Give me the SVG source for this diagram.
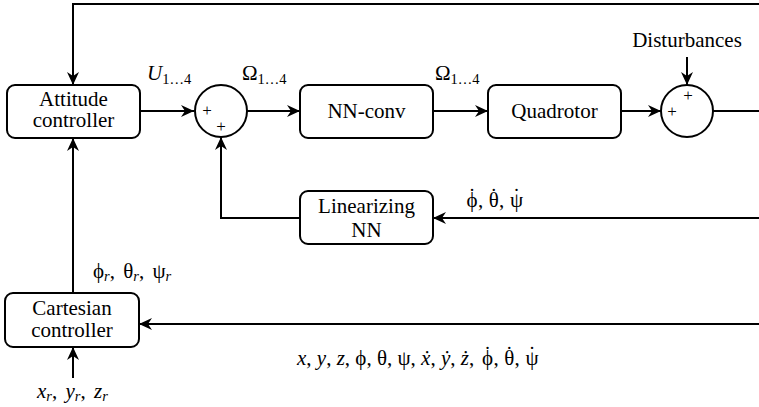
<svg xmlns="http://www.w3.org/2000/svg" width="759" height="407" viewBox="0 0 759 407">
<style>
.box{fill:#fff;stroke:#000;stroke-width:2}
.ln{fill:none;stroke:#000;stroke-width:2}
.arr{marker-end:url(#ah)}
text{font-family:"Liberation Serif","Times New Roman",serif;fill:#000}
.t{font-size:21px;text-anchor:middle}
.m{font-size:21px}
.sub{font-size:14.5px}
.pl{font-size:17px;text-anchor:middle}
.i{font-style:italic}
.c{text-anchor:middle}
.s{text-anchor:start}
.ws{word-spacing:3px}
</style>
<defs>
<marker id="ah" viewBox="-14 -7 15 14" refX="0" refY="0" markerWidth="15" markerHeight="14" markerUnits="userSpaceOnUse" orient="auto">
<path d="M0,0 L-13,-6 L-9,0 L-13,6 Z" fill="#000"/>
</marker>
</defs>
<g id="connectors">
<path class="ln arr" d="M759,4 H73 V85"/>
<path class="ln arr" d="M140,111 H194"/>
<path class="ln arr" d="M247,111 H300"/>
<path class="ln arr" d="M433,111 H488"/>
<path class="ln arr" d="M621,111 H661"/>
<path class="ln" d="M713,111 H759"/>
<path class="ln arr" d="M687,57 V85"/>
<path class="ln arr" d="M759,218 H433"/>
<path class="ln arr" d="M300,218 H221 V137"/>
<path class="ln arr" d="M73,293 V138"/>
<path class="ln arr" d="M759,324 H139"/>
<path class="ln arr" d="M73,378 V347"/>
</g>
<g id="attitude">
<rect class="box" x="7" y="85" width="133" height="53" rx="8"/>
<text class="t" x="73.500" y="106">Attitude</text>
<text class="t" x="73.500" y="127">controller</text>
</g>
<g id="sum1">
<circle class="box" cx="221" cy="111" r="26"/>
<text class="pl" x="207" y="116">+</text>
<text class="pl" x="221" y="132">+</text>
</g>
<g id="nnconv">
<rect class="box" x="300" y="85" width="133" height="53" rx="8"/>
<text class="t" x="366.500" y="118">NN-conv</text>
</g>
<g id="quadrotor">
<rect class="box" x="488" y="85" width="133" height="53" rx="8"/>
<text class="t" x="554.500" y="118">Quadrotor</text>
</g>
<g id="sum2">
<circle class="box" cx="687" cy="111" r="26"/>
<text class="pl" x="688" y="101">+</text>
<text class="pl" x="672" y="117">+</text>
</g>
<g id="linearizing">
<rect class="box" x="300" y="191" width="133" height="53" rx="8"/>
<text class="t" x="366.500" y="213">Linearizing</text>
<text class="t" x="366.500" y="237">NN</text>
</g>
<g id="cartesian">
<rect class="box" x="5" y="293" width="134" height="54" rx="8"/>
<text class="t" x="72" y="315">Cartesian</text>
<text class="t" x="72" y="337">controller</text>
</g>
<g id="labels">
<text class="t" x="687" y="47">Disturbances</text>
<text class="m" x="147" y="80"><tspan class="i">U</tspan><tspan class="sub" dy="4">1…4</tspan></text>
<text class="m" x="242" y="80">Ω<tspan class="sub" dy="4">1…4</tspan></text>
<text class="m" x="435" y="80">Ω<tspan class="sub" dy="4">1…4</tspan></text>
<text class="m" y="207"><tspan class="c" x="472">ϕ</tspan><tspan class="c" x="472" dy="-4">˙</tspan><tspan class="s" x="478" dy="4">,</tspan><tspan class="c" x="493.800">θ</tspan><tspan class="c" x="493.800" dy="-4">˙</tspan><tspan class="s" x="499" dy="4">,</tspan><tspan class="c" x="516.500">ψ</tspan><tspan class="c" x="516.500" dy="-4">˙</tspan></text>
<text class="m ws" x="93" y="278">ϕ<tspan class="sub i" dy="3">r</tspan><tspan dy="-3">, θ</tspan><tspan class="sub i" dy="3">r</tspan><tspan dy="-3">, ψ</tspan><tspan class="sub i" dy="3">r</tspan></text>
<text class="m" y="365"><tspan x="297"><tspan class="i">x</tspan>, <tspan class="i">y</tspan>, <tspan class="i">z</tspan>, ϕ, θ, ψ, <tspan class="i">ẋ</tspan>, <tspan class="i">ẏ</tspan>, <tspan class="i">ż</tspan>,</tspan><tspan class="c" x="487.600">ϕ</tspan><tspan class="c" x="487.600" dy="-4">˙</tspan><tspan class="s" x="493.600" dy="4">,</tspan><tspan class="c" x="509.300">θ</tspan><tspan class="c" x="509.300" dy="-4">˙</tspan><tspan class="s" x="514.600" dy="4">,</tspan><tspan class="c" x="532.100">ψ</tspan><tspan class="c" x="532.100" dy="-4">˙</tspan></text>
<text class="m ws" x="37" y="398"><tspan class="i">x</tspan><tspan class="sub i" dy="3">r</tspan><tspan dy="-3">, </tspan><tspan class="i">y</tspan><tspan class="sub i" dy="3">r</tspan><tspan dy="-3">, </tspan><tspan class="i">z</tspan><tspan class="sub i" dy="3">r</tspan></text>
</g>
</svg>
